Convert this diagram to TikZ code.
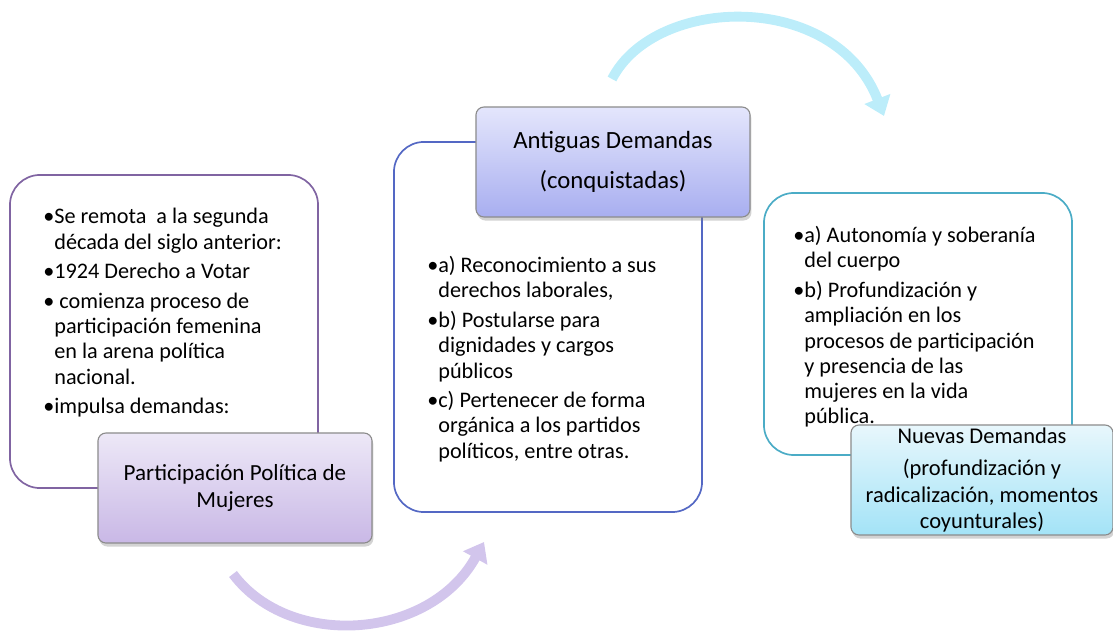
\documentclass[tikz,border=0pt]{standalone}
\usepackage{fontspec}
\setmainfont{Carlito}
\usetikzlibrary{arrows.meta,shadows}

\definecolor{lilaborde}{HTML}{8064A2}
\definecolor{lilaarriba}{HTML}{EDE8F7}
\definecolor{lilaabajo}{HTML}{C9B8E6}
\definecolor{azulborde}{HTML}{5468C4}
\definecolor{azularriba}{HTML}{E4E6FC}
\definecolor{azulabajo}{HTML}{A8AEF0}
\definecolor{celesteborde}{HTML}{4BACC6}
\definecolor{celestearriba}{HTML}{E8F7FC}
\definecolor{celesteabajo}{HTML}{A3E3F7}
\definecolor{grisborde}{HTML}{8C8C8C}
\definecolor{flechalila}{HTML}{D2C5EC}
\definecolor{flechaceleste}{HTML}{BCEDFA}

\newcommand{\itemdot}{\textbullet}
\newcommand{\itemgap}{\hphantom{\textbullet}}

\begin{document}
\begin{tikzpicture}[x=0.025cm,y=-0.025cm,
  outerbox/.style={draw,line width=1.2pt,rounded corners=0.75cm,fill=white,inner sep=0pt},
  titlebox/.style={draw=grisborde,line width=0.8pt,rounded corners=0.2cm,align=center,inner sep=0pt,
    font=\fontsize{16.4}{19}\selectfont,
    drop shadow={shadow xshift=1pt,shadow yshift=-2.5pt,opacity=0.35}},
  itemtext/.style={anchor=north west,align=left,inner sep=0pt,font=\fontsize{15.8}{18}\selectfont},
  bendarrow/.style={line width=7pt,-{Triangle[length=13pt,width=19pt]}}
]
\useasboundingbox (0,0) rectangle (1113,632);

% cajas grandes
\node[outerbox,draw=lilaborde,minimum width=7.7cm,minimum height=7.825cm] (izq) at (164,331.5) {};
\node[outerbox,draw=azulborde,minimum width=7.7cm,minimum height=9.25cm] (centro) at (548,327) {};
\node[outerbox,draw=celesteborde,minimum width=7.7cm,minimum height=6.55cm] (der) at (918,324) {};

% textos
\node[itemtext] (izqtexto) at (43,208) {\itemdot Se remota\ \ a la segunda\\
\itemgap década del siglo anterior:\\[3pt]
\itemdot 1924 Derecho a Votar\\[3pt]
\itemdot\ comienza proceso de\\
\itemgap participación femenina\\
\itemgap en la arena política\\
\itemgap nacional.\\[3pt]
\itemdot impulsa demandas:};

\node[itemtext] (centrotexto) at (427,256) {\itemdot a) Reconocimiento a sus\\
\itemgap derechos laborales,\\[3pt]
\itemdot b) Postularse para\\
\itemgap dignidades y cargos\\
\itemgap públicos\\[3pt]
\itemdot c) Pertenecer de forma\\
\itemgap orgánica a los partidos\\
\itemgap políticos, entre otras.};

\node[itemtext] (dertexto) at (793,226) {\itemdot a) Autonomía y soberanía\\
\itemgap del cuerpo\\[3pt]
\itemdot b) Profundización y\\
\itemgap ampliación en los\\
\itemgap procesos de participación\\
\itemgap y presencia de las\\
\itemgap mujeres en la vida\\
\itemgap pública.};

% cajas de titulo
\node[titlebox,top color=lilaarriba,bottom color=lilaabajo,minimum width=6.85cm,minimum height=2.75cm] (participacion) at (235,488) {Participación Política de\\Mujeres};
\node[titlebox,top color=azularriba,bottom color=azulabajo,minimum width=6.85cm,minimum height=2.75cm,font=\fontsize{17.6}{19}\selectfont] (antiguas) at (613,162) {Antiguas Demandas\\[9pt](conquistadas)};
\node[titlebox,top color=celestearriba,bottom color=celesteabajo,minimum width=6.55cm,minimum height=2.75cm,font=\fontsize{16}{19}\selectfont] (nuevas) at (982,480) {Nuevas Demandas\\[4pt](profundización y\\radicalización, momentos\\coyunturales)};

% flechas curvas
\coordinate (abajoini) at (233,574);
\coordinate (abajofin) at (484,542);
\coordinate (arribaini) at (612,79);
\coordinate (arribafin) at (884,116);
\draw[bendarrow,flechalila,overlay] (abajoini) .. controls (290,650) and (430,640) .. (abajofin);
\draw[bendarrow,flechaceleste,overlay] (arribaini) .. controls (655,-5) and (835,-10) .. (arribafin);
\end{tikzpicture}
\end{document}
